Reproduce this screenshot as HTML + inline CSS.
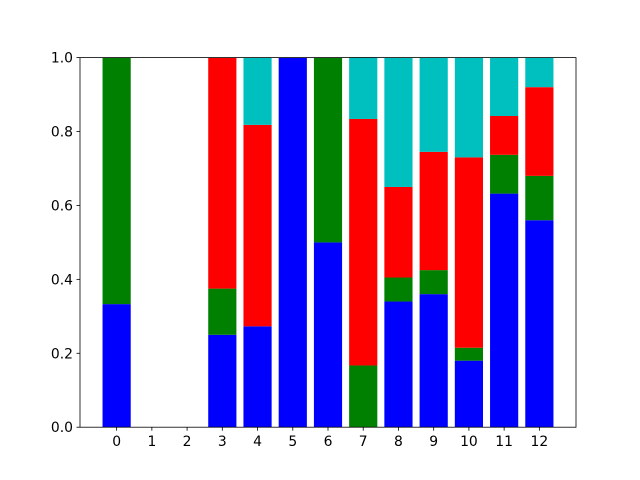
<!DOCTYPE html>
<html><head><meta charset="utf-8"><style>body{margin:0;background:#fff}svg{display:block;font-family:"DejaVu Sans","Liberation Sans",sans-serif}</style></head>
<body>
<svg id="chart" width="640" height="480" xmlns="http://www.w3.org/2000/svg"></svg>
<script>
const categories = [0,1,2,3,4,5,6,7,8,9,10,11,12];
const blueVals  = [0.333,0,0,0.25,0.273,1,0.5,0,0.34,0.36,0.18,0.632,0.56];
const greenVals = [0.667,0,0,0.125,0,0,0.5,0.167,0.065,0.065,0.035,0.105,0.12];
const redVals   = [0,0,0,0.625,0.545,0,0,0.667,0.245,0.32,0.515,0.105,0.24];
const cyanVals  = [0,0,0,0,0.182,0,0,0.167,0.35,0.255,0.27,0.158,0.08];
const yTicks = [0,0.2,0.4,0.6,0.8,1.0];
const yTickLabels = ["0.0","0.2","0.4","0.6","0.8","1.0"];

const NS="http://www.w3.org/2000/svg";
const svg=document.getElementById('chart');
const L=80,R=576,T=57.6,B=427.2;
const xmin=-1.04,xmax=13.04;
const xs=v=>L+(v-xmin)/(xmax-xmin)*(R-L);
const ys=v=>B-v*(B-T);
function mk(tag,attrs){const e=document.createElementNS(NS,tag);for(const k in attrs)e.setAttribute(k,attrs[k]);svg.appendChild(e);return e;}
const series=[[blueVals,'#0000ff','blue'],[greenVals,'#008000','green'],[redVals,'#ff0000','red'],[cyanVals,'#00bfbf','cyan']];
categories.forEach((c,i)=>{
  let base=0;
  series.forEach(([vals,col,nm])=>{
    const v=vals[i];
    if(v>0){
      const r=mk('rect',{x:xs(c-0.4),y:ys(base+v),width:xs(c+0.4)-xs(c-0.4),height:ys(base)-ys(base+v),fill:col});
      
      
    }
    base+=v;
  });
});
const frame=mk('rect',{x:L,y:T,width:R-L,height:B-T,fill:'none',stroke:'#000','stroke-width':0.8});


categories.forEach(c=>{
  const x=xs(c);
  const t=mk('line',{x1:x,x2:x,y1:B,y2:B+3.5,stroke:'#000','stroke-width':0.8});
  
  
  const tx=mk('text',{x:x,y:B+19,'text-anchor':'middle','font-size':13.9});
  tx.textContent=c;
  
  
});
yTicks.forEach((v,i)=>{
  const y=ys(v);
  const t=mk('line',{x1:L-3.5,x2:L,y1:y,y2:y,stroke:'#000','stroke-width':0.8});
  
  
  const tx=mk('text',{x:L-7,y:y+5,'text-anchor':'end','font-size':13.9});
  tx.textContent=yTickLabels[i];
  
  
});
</script>
</body></html>
